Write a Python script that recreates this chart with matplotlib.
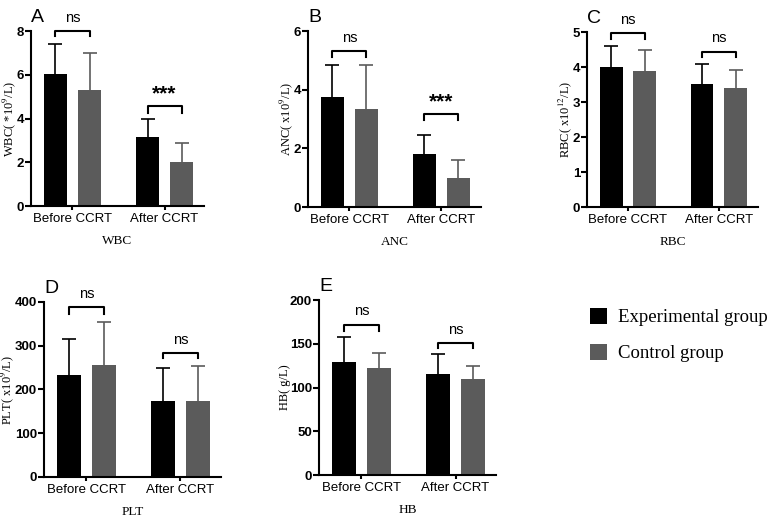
import matplotlib.pyplot as plt
from matplotlib.patches import Patch

plt.rcParams["font.family"] = ["Liberation Sans", "DejaVu Sans"]
plt.rcParams["mathtext.fontset"] = "stix"

groups = ["Before CCRT", "After CCRT"]
series = ["Experimental group", "Control group"]
colors = ["#000000", "#5b5b5b"]

panels = ["A", "B", "C", "D", "E"]
names = ["WBC", "ANC", "RBC", "PLT", "HB"]
ylabels = [r"WBC( *10$^{9}$/L)", r"ANC( x10$^{9}$/L)", r"RBC( x10$^{12}$/L)",
           r"PLT( x10$^{9}$/L)", r"HB( g/L)"]
ymax = [8, 6, 5, 400, 200]
ystep = [2, 2, 1, 100, 50]

# means [before, after] per group
exp_mean = [[6.02, 3.14], [3.75, 1.80], [4.01, 3.52], [232, 174], [129.5, 115.8]]
ctl_mean = [[5.30, 2.03], [3.36, 0.99], [3.90, 3.39], [255, 174], [122.6, 109.3]]
exp_sd = [[1.37, 0.84], [1.11, 0.65], [0.59, 0.57], [84, 75], [28.5, 22.1]]
ctl_sd = [[1.70, 0.86], [1.50, 0.60], [0.60, 0.53], [100, 79], [17.2, 15.6]]

# significance per group and bracket heights (top, tick end)
sig = [["ns", "***"], ["ns", "***"], ["ns", "ns"], ["ns", "ns"], ["ns", "ns"]]
bracket = [[(8.0, 7.75), (4.57, 4.25)], [(5.31, 5.12), (3.19, 2.98)],
           [(4.97, 4.81), (4.44, 4.29)], [(389, 373), (284, 271)],
           [(172, 165), (151, 145)]]

positions = [[0.040, 0.6015, 0.2227, 0.3385], [0.3964, 0.5996, 0.2227, 0.340],
             [0.7555, 0.5996, 0.2201, 0.3385], [0.0566, 0.0774, 0.2278, 0.3385],
             [0.4106, 0.0812, 0.2278, 0.3385]]

fig = plt.figure(figsize=(7.77, 5.17), dpi=100)
w, off = 0.25, 0.185
for i in range(5):
    ax = fig.add_axes(positions[i])
    x = [0, 1]
    for k, (m, s) in enumerate([(exp_mean[i], exp_sd[i]), (ctl_mean[i], ctl_sd[i])]):
        xs = [xx + (2 * k - 1) * off for xx in x]
        ax.bar(xs, m, width=w, color=colors[k], zorder=2)
        # symmetric bars drawn behind, so only the upper half shows
        ax.errorbar(xs, m, yerr=s, fmt="none", ecolor=colors[k],
                    elinewidth=1.2, capsize=5, capthick=1.2, zorder=1)
    for g in range(2):
        top, low = bracket[i][g]
        xl, xr = g - off, g + off
        ax.plot([xl, xl, xr, xr], [low, top, top, low], color="black", lw=1.5,
                clip_on=False, zorder=3)
        if sig[i][g] == "ns":
            ax.text(g, top + ymax[i] * 0.035, "ns", ha="center", va="bottom",
                    fontsize=10.5)
        else:
            ax.text(g, top + ymax[i] * 0.015, "***", ha="center", va="bottom",
                    fontsize=15, fontweight="bold")
    ax.set_xlim(-0.45, 1.43)
    ax.set_ylim(0, ymax[i])
    ax.set_yticks(range(0, ymax[i] + 1, ystep[i]))
    ax.set_xticks(x, groups)
    for lab in ax.get_yticklabels():
        lab.set_fontweight("bold")
    ax.tick_params(axis="y", labelsize=9.5, width=1.5, length=4, pad=1)
    ax.tick_params(axis="x", labelsize=9.5, width=1.5, length=3, pad=2)
    for sp in ["top", "right"]:
        ax.spines[sp].set_visible(False)
    for sp in ["left", "bottom"]:
        ax.spines[sp].set_linewidth(1.5)
    ax.set_ylabel(ylabels[i], family="Liberation Serif", fontsize=9, labelpad=-1)
    ax.set_xlabel(names[i], family="Liberation Serif", fontsize=9.5, labelpad=7)
    ax.text(0.0, 1.03, panels[i], transform=ax.transAxes, fontsize=14,
            ha="left", va="bottom")

handles = [Patch(facecolor=c) for c in colors]
fig.legend(handles, series, loc="upper left", bbox_to_anchor=(0.738, 0.437),
           frameon=False, prop={"family": "Liberation Serif", "size": 13.5},
           handlelength=0.9, handleheight=0.9, labelspacing=0.95, handletextpad=0.6)

fig.savefig("out.png", dpi=100)
